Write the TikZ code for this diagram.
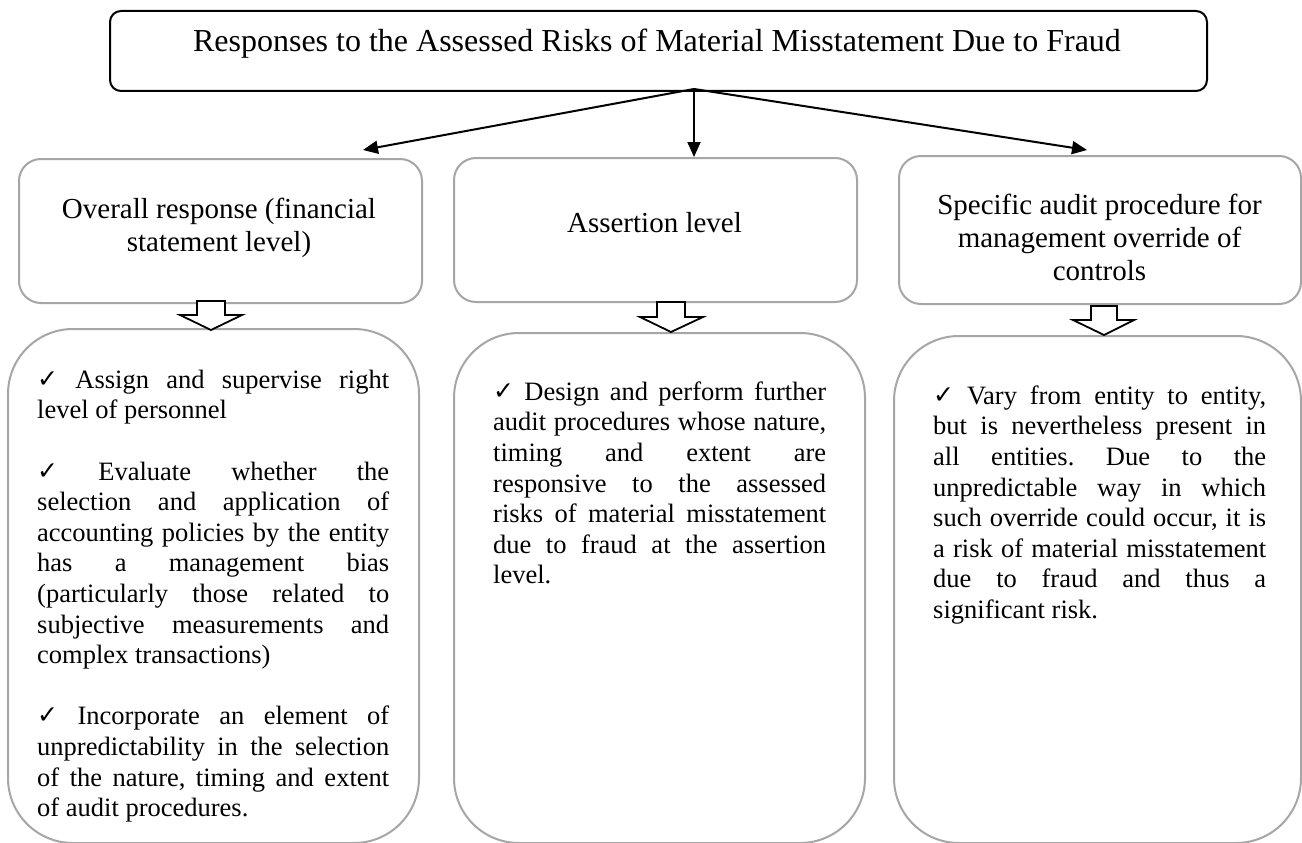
\documentclass[tikz,border=0pt]{standalone}
\usepackage{fontspec}
\setmainfont{Liberation Serif}
\newfontfamily\chkfont{DejaVu Sans}
\usetikzlibrary{arrows.meta}
\definecolor{boxgray}{RGB}{166,166,166}
\tolerance=10000
\hyphenpenalty=10000
\exhyphenpenalty=10000
\frenchspacing
\newcommand{\chkmark}{{\chkfont\fontsize{25}{25}\selectfont\raisebox{1pt}{✓}}}
\tikzset{
  topbox/.style={draw=black, line width=2pt, rounded corners=11pt, rectangle, inner sep=0pt},
  midbox/.style={draw=boxgray, line width=2pt, rounded corners=22pt, rectangle, inner sep=0pt},
  botbox/.style={draw=boxgray, line width=2pt, rounded corners=65pt, rectangle, inner sep=0pt},
  conn/.style={draw=black, line width=2pt, -{Triangle[length=15pt,width=13pt]}},
  blockarrow/.style={draw=black, line width=1.8pt, fill=white, line join=miter},
  titletext/.style={anchor=base, inner sep=0pt, font=\fontsize{32}{36}\selectfont},
  midtext/.style={align=center, inner sep=0pt, anchor=north, font=\fontsize{29}{33}\selectfont},
  bodytext/.style={align=justify, inner sep=0pt, anchor=north west, font=\fontsize{26.5}{30.6}\selectfont},
}
\begin{document}
\begin{tikzpicture}[x=1pt, y=-1pt]
\useasboundingbox (0,0) rectangle (1302,843);
\fill[white] (0,0) rectangle (1302,843);

% top box
\node[topbox, anchor=north west, minimum width=1097pt, minimum height=80pt] (top) at (109,10) {};
\node[titletext] (title) at (657,52) {Responses to the Assessed Risks of Material Misstatement Due to Fraud};

% middle boxes
\node[midbox, anchor=north west, minimum width=403pt, minimum height=144pt] (m1) at (18,158) {};
\node[midbox, anchor=north west, minimum width=403pt, minimum height=144pt] (m2) at (453,157) {};
\node[midbox, anchor=north west, minimum width=402pt, minimum height=148pt] (m3) at (898,155) {};

\node[midtext] (m1t) at (219,195) {\strut Overall response (financial\\statement level)};
\node[midtext] (m2t) at (654.5,209) {\strut Assertion level};
\node[midtext] (m3t) at (1099.5,191) {\strut Specific audit procedure for\\management override of\\controls};

% bottom boxes
\node[botbox, anchor=north west, minimum width=411pt, minimum height=514pt] (b1) at (7,328) {};
\node[botbox, anchor=north west, minimum width=411pt, minimum height=510pt] (b2) at (453,332) {};
\node[botbox, anchor=north west, minimum width=407pt, minimum height=507pt] (b3) at (893,335) {};

% block arrows
\draw[blockarrow] (197,301) -- (225,301) -- (225,315) -- (242,315) -- (211,330) -- (180,315) -- (197,315) -- cycle;
\draw[blockarrow] (657,302) -- (685,302) -- (685,317) -- (703,317) -- (671,332) -- (640,317) -- (657,317) -- cycle;
\draw[blockarrow] (1091,306) -- (1117,306) -- (1117,320) -- (1134,320) -- (1104,335) -- (1073,320) -- (1091,320) -- cycle;

% connectors
\coordinate (src) at (694,89);
\coordinate (t1) at (363,150);
\coordinate (t2) at (694,157);
\coordinate (t3) at (1087,150);
\draw[conn] (src) -- (t1);
\draw[conn] (src) -- (t2);
\draw[conn] (src) -- (t3);

% body texts
\begin{scope}
\clip (0,0) rectangle (1302,821);
\node[bodytext, text width=352pt] (b1t) at (37,366.6) {\strut\chkmark{} Assign and supervise right\linebreak level of personnel\par\vspace{30.6pt}
\chkmark{} Evaluate whether the\linebreak selection and application of\linebreak accounting policies by the entity\linebreak has a management bias\linebreak (particularly those related to\linebreak subjective measurements and\linebreak complex transactions)\par\vspace{30.6pt}
\chkmark{} Incorporate an element of\linebreak unpredictability in the selection\linebreak of the nature, timing and extent\linebreak of audit procedures.};
\end{scope}

\node[bodytext, text width=333pt] (b2t) at (493,378.6) {\strut\chkmark{} Design and perform further\linebreak audit procedures whose nature,\linebreak timing and extent are\linebreak responsive to the assessed\linebreak risks of material misstatement\linebreak due to fraud at the assertion\linebreak level.};

\node[bodytext, text width=333pt] (b3t) at (933,382.6) {\strut\chkmark{} Vary from entity to entity,\linebreak but is nevertheless present in\linebreak all entities. Due to the\linebreak unpredictable way in which\linebreak such override could occur, it is\linebreak a risk of material misstatement\linebreak due to fraud and thus a\linebreak significant risk.};

\end{tikzpicture}
\end{document}
